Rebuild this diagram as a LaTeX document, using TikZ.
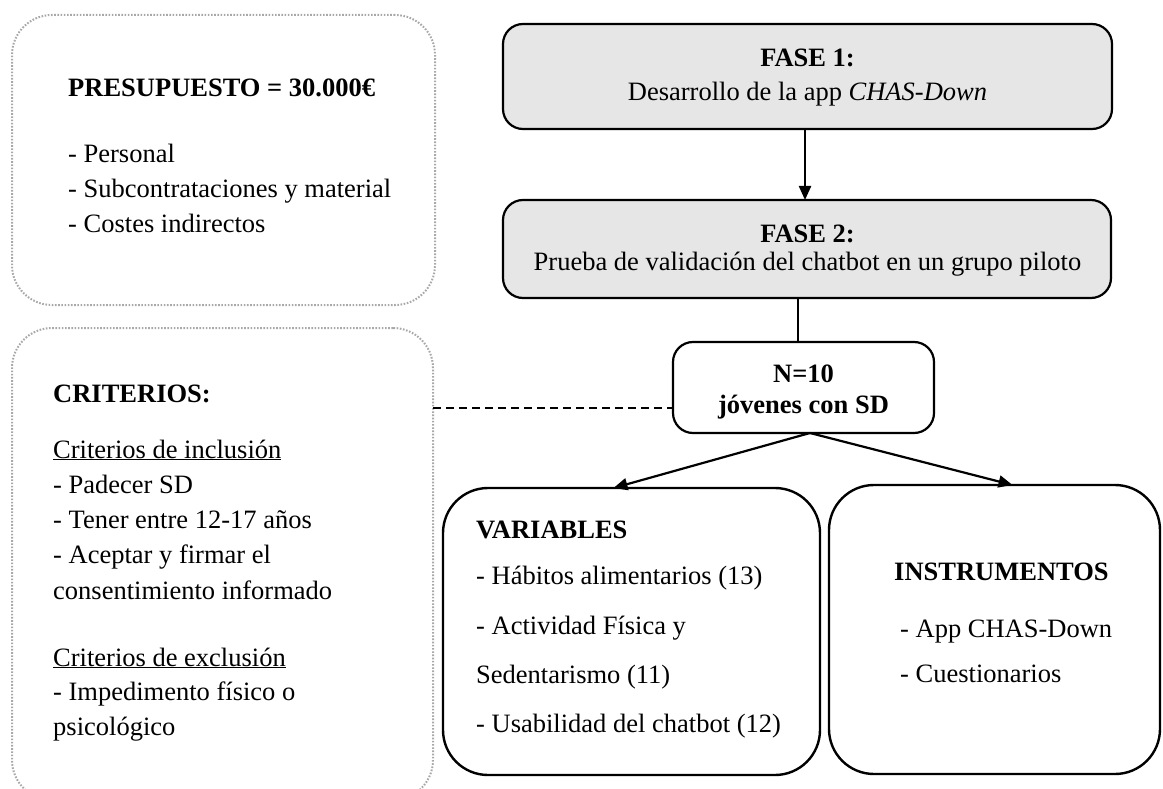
\documentclass[tikz,border=0pt]{standalone}
\usepackage{fontspec}
\setmainfont{Liberation Serif}
\usetikzlibrary{arrows.meta}
\definecolor{fasegray}{HTML}{E6E6E6}
\definecolor{dotgray}{HTML}{A8A8A8}
\begin{document}
\begin{tikzpicture}[x=1pt,y=-1pt,
  txt/.style={inner sep=0pt, anchor=base west, font=\fontsize{26.5}{32}\selectfont},
  ctxt/.style={inner sep=0pt, anchor=base, font=\fontsize{26.5}{32}\selectfont},
  dotbox/.style={draw=dotgray, line width=2pt, dash pattern=on 1.6pt off 1.6pt, rounded corners=40pt, inner sep=0pt, outer sep=0pt},
  fasebox/.style={draw=black, fill=fasegray, line width=2.2pt, rounded corners=20pt, inner sep=0pt, outer sep=0pt},
  nbox/.style={draw=black, fill=white, line width=2.2pt, rounded corners=20pt, inner sep=0pt, outer sep=0pt},
  bigbox/.style={draw=black, fill=white, line width=2.4pt, rounded corners=45pt, inner sep=0pt, outer sep=0pt},
  conn/.style={draw=black, line width=2.2pt},
  arr/.style={conn, -{Triangle[length=14pt,width=12pt]}},
  dashconn/.style={draw=black, line width=2pt, dash pattern=on 8pt off 5pt}
]
\useasboundingbox (0,0) rectangle (1163,789);
\clip (0,0) rectangle (1163,789);
\fill[white] (0,0) rectangle (1163,789);

% left dotted boxes
\node[dotbox, minimum width=423pt, minimum height=290pt] (BUD) at (223.5,160) {};
\node[dotbox, minimum width=421pt, minimum height=472pt] (CRIT) at (222.5,564) {};

% right boxes
\node[fasebox, minimum width=609pt, minimum height=105pt] (F1) at (807.5,76.5) {};
\node[fasebox, minimum width=608pt, minimum height=98pt] (F2) at (807,249) {};
\node[nbox, minimum width=261pt, minimum height=91pt] (N) at (803.5,387.5) {};
\node[bigbox, minimum width=377pt, minimum height=287pt] (VAR) at (631.5,631.5) {};
\node[bigbox, minimum width=331pt, minimum height=289pt] (INS) at (994.5,629.5) {};

% connectors
\coordinate (ax) at (805,0);
\coordinate (lx) at (798,0);
\coordinate (dy) at (0,408);
\draw[arr] (F1.south -| ax) -- (F2.north -| ax);
\draw[conn] (F2.south -| lx) -- (N.north -| lx);
\draw[dashconn] (CRIT.east |- dy) -- (N.west |- dy);
\coordinate (nb) at (810,433);
\draw[arr] (nb) -- ([xshift=-18pt]VAR.north);
\draw[arr] (nb) -- ([xshift=18pt]INS.north);

% budget text
\node[txt] (b0) at (68,97) {\textbf{PRESUPUESTO = 30.000€}};
\node[txt] (b1) at (68,163) {- Personal};
\node[txt] (b2) at (68,198) {- Subcontrataciones y material};
\node[txt] (b3) at (68,233) {- Costes indirectos};

% criteria text
\node[txt] (c0) at (53,402) {\textbf{CRITERIOS:}};
\node[txt] (c1) at (53,458) {\underline{Criterios de inclusión}};
\node[txt] (c2) at (53,493) {- Padecer SD};
\node[txt] (c3) at (53,528) {- Tener entre 12-17 años};
\node[txt] (c4) at (53,563) {- Aceptar y firmar el};
\node[txt] (c5) at (53,599) {consentimiento informado};
\node[txt] (c6) at (53,666) {\underline{Criterios de exclusión}};
\node[txt] (c7) at (53,700) {- Impedimento físico o};
\node[txt] (c8) at (53,735) {psicológico};

% fase texts
\node[ctxt] (f1a) at (807.5,67) {\textbf{FASE 1:}};
\node[ctxt] (f1b) at (807.5,101) {Desarrollo de la app \textit{CHAS-Down}};
\node[ctxt] (f2a) at (807.5,242) {\textbf{FASE 2:}};
\node[ctxt] (f2b) at (807.5,270) {Prueba de validación del chatbot en un grupo piloto};

% N text
\node[ctxt] (n1) at (803.5,382) {\textbf{N=10}};
\node[ctxt] (n2) at (803.5,413) {\textbf{jóvenes con SD}};

% variables text
\node[txt] (v0) at (476,538) {\textbf{VARIABLES}};
\node[txt] (v1) at (476,584) {- Hábitos alimentarios (13)};
\node[txt] (v2) at (476,634) {- Actividad Física y};
\node[txt] (v3) at (476,683) {Sedentarismo (11)};
\node[txt] (v4) at (476,732) {- Usabilidad del chatbot (12)};

% instrumentos text
\node[txt] (i0) at (894,580) {\textbf{INSTRUMENTOS}};
\node[txt] (i1) at (900,637) {- App CHAS-Down};
\node[txt] (i2) at (900,682) {- Cuestionarios};
\end{tikzpicture}
\end{document}
